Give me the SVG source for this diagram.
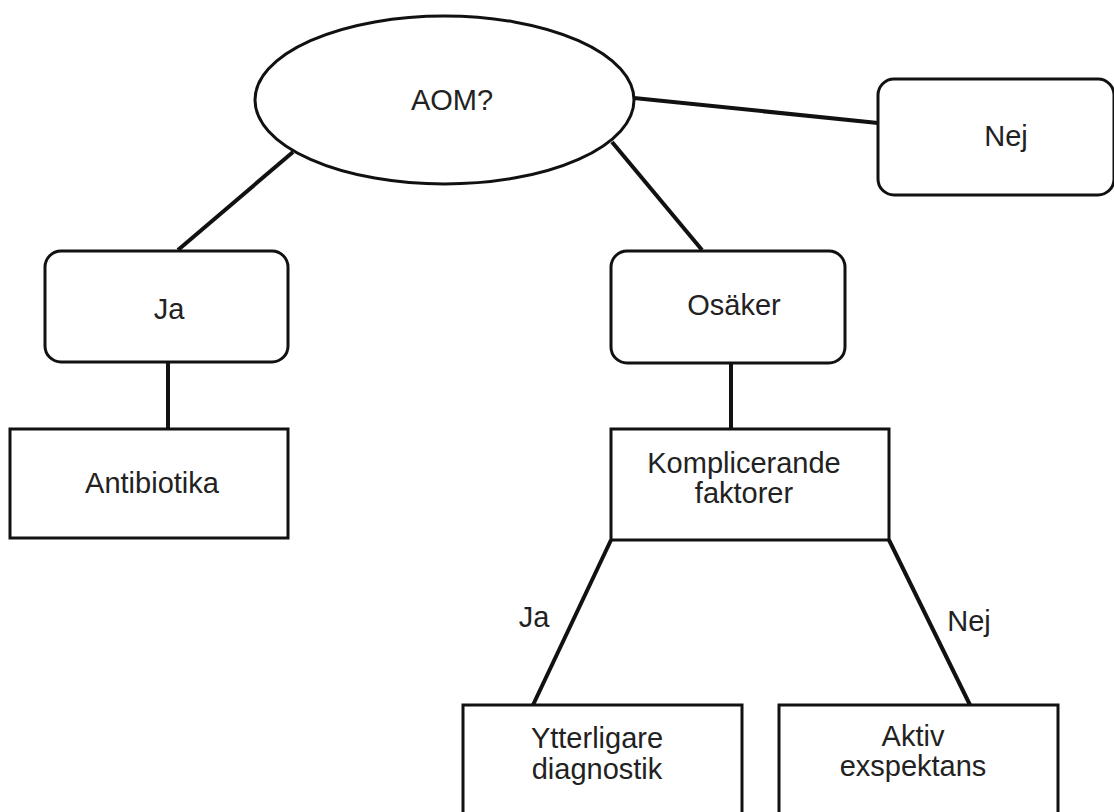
<svg xmlns="http://www.w3.org/2000/svg" width="1114" height="812" viewBox="0 0 1114 812">
<style>
.shape{fill:#fff;stroke:#111;stroke-width:3}
.conn{stroke:#111;stroke-width:4;fill:none}
.t{font-family:"Liberation Sans",Arial,Helvetica,sans-serif;font-size:29px;fill:#222;text-anchor:middle}
</style>
<rect width="1114" height="812" fill="#fff"/>
<g id="connectors">
<line class="conn" x1="293" y1="152" x2="178" y2="250"/>
<line class="conn" x1="612" y1="142" x2="702" y2="250"/>
<line class="conn" x1="634" y1="98" x2="878" y2="123"/>
<line class="conn" x1="168" y1="362" x2="168" y2="429"/>
<line class="conn" x1="731" y1="363" x2="731" y2="429"/>
<line class="conn" x1="611" y1="540" x2="533" y2="705"/>
<line class="conn" x1="889" y1="540" x2="970" y2="705"/>
<text class="t" x="534" y="627">Ja</text>
<text class="t" x="969" y="631">Nej</text>
</g>
<g id="aom">
<ellipse class="shape" cx="444.5" cy="100" rx="189.5" ry="84"/>
<text class="t" x="452" y="110">AOM?</text>
</g>
<g id="nej">
<rect class="shape" x="878" y="79" width="236" height="116" rx="16"/>
<text class="t" x="1006" y="146">Nej</text>
</g>
<g id="ja">
<rect class="shape" x="45" y="251" width="243" height="111" rx="16"/>
<text class="t" x="169" y="319">Ja</text>
</g>
<g id="osaker">
<rect class="shape" x="611" y="251" width="234" height="112" rx="16"/>
<text class="t" x="734" y="315">Osäker</text>
</g>
<g id="antibiotika">
<rect class="shape" x="10" y="429" width="278" height="109"/>
<text class="t" x="152" y="493">Antibiotika</text>
</g>
<g id="komplicerande">
<rect class="shape" x="611" y="429" width="278" height="111"/>
<text class="t" x="744" y="473">Komplicerande</text>
<text class="t" x="744" y="503">faktorer</text>
</g>
<g id="ytterligare">
<rect class="shape" x="463" y="705" width="279" height="120"/>
<text class="t" x="597" y="748">Ytterligare</text>
<text class="t" x="597" y="779">diagnostik</text>
</g>
<g id="aktiv">
<rect class="shape" x="779" y="705" width="279" height="120"/>
<text class="t" x="913" y="746">Aktiv</text>
<text class="t" x="913" y="776">exspektans</text>
</g>
</svg>
